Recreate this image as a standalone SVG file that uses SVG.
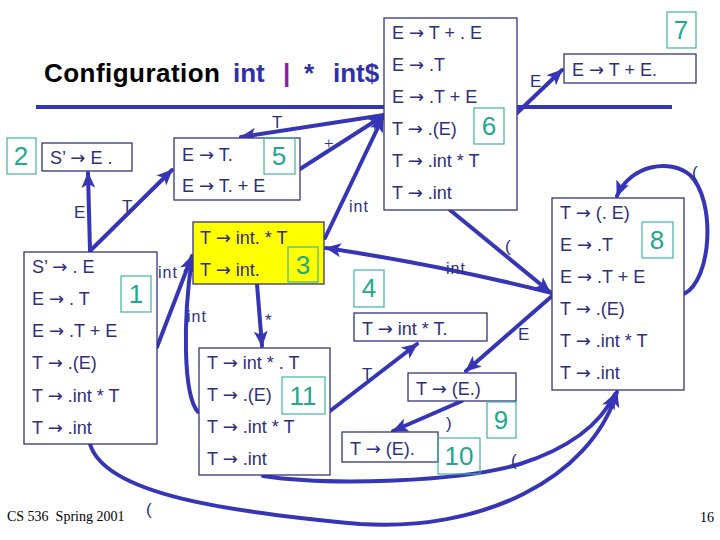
<svg xmlns="http://www.w3.org/2000/svg" width="720" height="540" viewBox="0 0 720 540">
<style>
.box{fill:#fff;stroke:#35357f;stroke-width:1.3}
.yel{fill:#ffff00;stroke:#35357f;stroke-width:1.3}
.t{font-family:"Liberation Sans",Arial,sans-serif;font-size:18px;fill:#2e2e7c}
.a{font-family:"DejaVu Sans",sans-serif;font-size:18px}
.num{fill:none;stroke:#3fb39e;stroke-width:1.2}
.nt{font-family:"Liberation Sans",Arial,sans-serif;font-size:26px;fill:#22a88c;text-anchor:middle}
.c{fill:none;stroke:#3535b5;stroke-width:4;stroke-linecap:round}
.el{font-family:"Liberation Sans",Arial,sans-serif;font-size:17px;fill:#2e2e7c}
.il{font-family:"Liberation Sans",Arial,sans-serif;font-size:16px;fill:#2e2e7c;letter-spacing:1px}
.foot{font-family:"Liberation Serif","Times New Roman",serif;font-size:14px;fill:#000;white-space:pre}
</style>
<defs>
<marker id="ah" markerWidth="18" markerHeight="14" refX="15" refY="7" orient="auto" markerUnits="userSpaceOnUse">
<path d="M0,0 L16,7 L0,14 L4,7 z" fill="#3535b5"/>
</marker>
</defs>
<rect width="720" height="540" fill="#fff"/>
<g id="title">
<text x="44" y="82" font-family="Liberation Sans,Arial,sans-serif" font-weight="bold" font-size="26" fill="#000" textLength="176">Configuration</text>
<text x="233" y="82" font-family="Liberation Sans,Arial,sans-serif" font-weight="bold" font-size="26" fill="#3030a8">int</text>
<text x="283" y="82" font-family="Liberation Sans,Arial,sans-serif" font-weight="bold" font-size="26" fill="#8a1ea8">|</text>
<text x="304" y="82" font-family="Liberation Sans,Arial,sans-serif" font-weight="bold" font-size="26" fill="#3030a8">*</text>
<text x="333" y="82" font-family="Liberation Sans,Arial,sans-serif" font-weight="bold" font-size="26" fill="#3030a8">int$</text>
<line x1="36" y1="107" x2="672" y2="107" stroke="#3535b5" stroke-width="4"/>
</g>
<g id="connectors">
<path class="c" d="M517,113 L562,70" marker-end="url(#ah)"/>
<path class="c" d="M384,115 L241,137" marker-end="url(#ah)"/>
<path class="c" d="M300,169 L383,116" marker-end="url(#ah)"/>
<path class="c" d="M325,238 L383,117" marker-end="url(#ah)"/>
<path class="c" d="M450,210 L550,292" marker-end="url(#ah)"/>
<path class="c" d="M552,293 Q440,265 326,248" marker-end="url(#ah)"/>
<path class="c" d="M552,296 L466,371" marker-end="url(#ah)"/>
<path class="c" d="M462,401 L393,431" marker-end="url(#ah)"/>
<path class="c" d="M330,411 L417,344" marker-end="url(#ah)"/>
<path class="c" d="M257,284 L262,346" marker-end="url(#ah)"/>
<path class="c" d="M157,347 L192,256" marker-end="url(#ah)"/>
<path class="c" d="M198,412 C183,395 183,320 192,258" marker-end="url(#ah)"/>
<path class="c" d="M90,251 L88,173" marker-end="url(#ah)"/>
<path class="c" d="M90,251 L172,170" marker-end="url(#ah)"/>
<path class="c" d="M684,294 C712,280 716,200 690,175 C670,158 630,165 617,196" marker-end="url(#ah)"/>
<path class="c" d="M90,444 C105,495 230,512 360,524 C480,532 590,480 617,392" marker-end="url(#ah)"/>
<path class="c" d="M263,476 C330,486 460,482 520,464 C570,448 600,425 615,394" marker-end="url(#ah)"/>
</g>
<g id="edge-labels">
<text class="el" x="530" y="87">E</text>
<text class="el" x="272" y="128">T</text>
<text x="324" y="149" font-family="Liberation Serif,serif" font-size="17" fill="#2e2e7c">+</text>
<text class="il" x="349" y="212">int</text>
<text class="el" x="505" y="252">(</text>
<text class="il" x="446" y="274">int</text>
<text class="el" x="518" y="340">E</text>
<text class="el" x="446" y="429">)</text>
<text class="el" x="362" y="380">T</text>
<text class="el" x="265" y="326">*</text>
<text class="il" x="158" y="278">int</text>
<text class="il" x="187" y="322">int</text>
<text class="el" x="74" y="218">E</text>
<text class="el" x="122" y="212">T</text>
<text class="el" x="692" y="178">(</text>
<text class="el" x="146" y="515">(</text>
<text class="el" x="511" y="466">(</text>
</g>
<g id="state6">
<rect class="box" x="384" y="18" width="133" height="192"/>
<text class="t" x="392" y="39">E <tspan class="a">→</tspan> T + . E</text>
<text class="t" x="392" y="71">E <tspan class="a">→</tspan> .T</text>
<text class="t" x="392" y="103">E <tspan class="a">→</tspan> .T + E</text>
<text class="t" x="392" y="135">T <tspan class="a">→</tspan> .(E)</text>
<text class="t" x="392" y="167">T <tspan class="a">→</tspan> .int * T</text>
<text class="t" x="392" y="199">T <tspan class="a">→</tspan> .int</text>
<rect class="num" x="474" y="108" width="30" height="36"/>
<text class="nt" x="489" y="135">6</text>
</g>
<g id="state7">
<rect class="box" x="564" y="54" width="132" height="29"/>
<text class="t" x="572" y="76">E <tspan class="a">→</tspan> T + E.</text>
<rect class="num" x="667" y="12" width="29" height="36"/>
<text class="nt" x="681" y="39">7</text>
</g>
<g id="state5">
<rect class="box" x="174" y="138" width="126" height="62"/>
<text class="t" x="182" y="161">E <tspan class="a">→</tspan> T.</text>
<text class="t" x="182" y="192">E <tspan class="a">→</tspan> T. + E</text>
<rect class="num" x="264" y="138" width="31" height="36"/>
<text class="nt" x="279" y="165">5</text>
</g>
<g id="state2">
<rect class="box" x="42" y="143" width="90" height="28"/>
<text class="t" x="50" y="164">S’ <tspan class="a">→</tspan> E .</text>
<rect class="num" x="7" y="138" width="29" height="36"/>
<text class="nt" x="21" y="165">2</text>
</g>
<g id="state3">
<rect class="yel" x="193" y="222" width="131" height="62"/>
<text class="t" x="200" y="244">T <tspan class="a">→</tspan> int. * T</text>
<text class="t" x="200" y="276">T <tspan class="a">→</tspan> int.</text>
<rect class="num" x="288" y="247" width="30" height="35" stroke="#3aa860"/>
<text class="nt" x="303" y="274" fill="#2fa845">3</text>
</g>
<g id="state1">
<rect class="box" x="24" y="252" width="133" height="192"/>
<text class="t" x="32" y="273">S’ <tspan class="a">→</tspan> . E</text>
<text class="t" x="32" y="305">E <tspan class="a">→</tspan> . T</text>
<text class="t" x="32" y="337">E <tspan class="a">→</tspan> .T + E</text>
<text class="t" x="32" y="369">T <tspan class="a">→</tspan> .(E)</text>
<text class="t" x="32" y="402">T <tspan class="a">→</tspan> .int * T</text>
<text class="t" x="32" y="434">T <tspan class="a">→</tspan> .int</text>
<rect class="num" x="121" y="276" width="30" height="36"/>
<text class="nt" x="136" y="303">1</text>
</g>
<g id="state11">
<rect class="box" x="199" y="348" width="131" height="127"/>
<text class="t" x="207" y="369">T <tspan class="a">→</tspan> int * . T</text>
<text class="t" x="207" y="401">T <tspan class="a">→</tspan> .(E)</text>
<text class="t" x="207" y="433">T <tspan class="a">→</tspan> .int * T</text>
<text class="t" x="207" y="465">T <tspan class="a">→</tspan> .int</text>
<rect class="num" x="282" y="377" width="43" height="37"/>
<text class="nt" x="303" y="405">11</text>
</g>
<g id="state4">
<rect class="box" x="354" y="313" width="133" height="28"/>
<text class="t" x="362" y="335">T <tspan class="a">→</tspan> int * T.</text>
<rect class="num" x="354" y="270" width="30" height="37"/>
<text class="nt" x="369" y="297">4</text>
</g>
<g id="state8">
<rect class="box" x="552" y="198" width="132" height="192"/>
<text class="t" x="560" y="219">T <tspan class="a">→</tspan> (. E)</text>
<text class="t" x="560" y="251">E <tspan class="a">→</tspan> .T</text>
<text class="t" x="560" y="283">E <tspan class="a">→</tspan> .T + E</text>
<text class="t" x="560" y="315">T <tspan class="a">→</tspan> .(E)</text>
<text class="t" x="560" y="347">T <tspan class="a">→</tspan> .int * T</text>
<text class="t" x="560" y="379">T <tspan class="a">→</tspan> .int</text>
<rect class="num" x="642" y="222" width="31" height="36"/>
<text class="nt" x="657" y="249">8</text>
</g>
<g id="state9">
<rect class="box" x="408" y="373" width="108" height="28"/>
<text class="t" x="416" y="395">T <tspan class="a">→</tspan> (E.)</text>
<rect class="num" x="487" y="402" width="29" height="36"/>
<text class="nt" x="501" y="429">9</text>
</g>
<g id="state10">
<rect class="box" x="342" y="432" width="96" height="30"/>
<text class="t" x="350" y="455">T <tspan class="a">→</tspan> (E).</text>
<rect class="num" x="438" y="438" width="42" height="36"/>
<text class="nt" x="459" y="465">10</text>
</g>
<g id="footer">
<text class="foot" x="7" y="521">CS 536  Spring 2001</text>
<text class="foot" x="700" y="522">16</text>
</g>
</svg>
